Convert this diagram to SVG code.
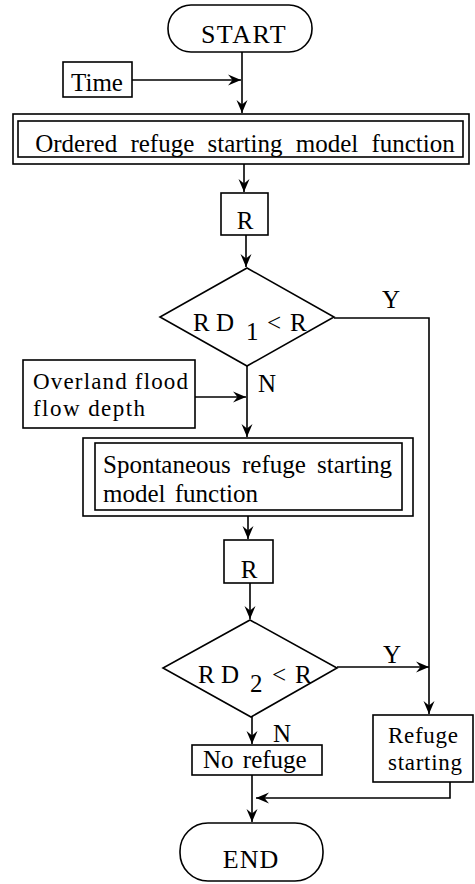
<svg xmlns="http://www.w3.org/2000/svg" width="475" height="884" viewBox="0 0 475 884">
  <style>
    .box { fill: #fff; stroke: #000; stroke-width: 1.6; }
    .edge { fill: none; stroke: #000; stroke-width: 1.6; }
    text { font-family: "Liberation Serif", "Times New Roman", serif; font-size: 25px; fill: #000; }
    .big { font-size: 26px; }
    .small { font-size: 23px; }
    .mid { text-anchor: middle; }
  </style>
  <defs>
    <marker id="arrow" markerUnits="userSpaceOnUse" markerWidth="14" markerHeight="12" refX="13" refY="6" orient="auto">
      <path d="M0,0.5 L13,6 L0,11.5 L4.5,6 z" fill="#000"/>
    </marker>
  </defs>
  <rect width="475" height="884" fill="#fff"/>

  <!-- connectors -->
  <g id="connectors">
    <path class="edge" d="M242,52 V113" marker-end="url(#arrow)"/>
    <path class="edge" d="M132,80 H241" marker-end="url(#arrow)"/>
    <path class="edge" d="M244,164 V192" marker-end="url(#arrow)"/>
    <path class="edge" d="M246,235 V267" marker-end="url(#arrow)"/>
    <path class="edge" d="M334,318 H429 V714" marker-end="url(#arrow)"/>
    <path class="edge" d="M247,366 V437" marker-end="url(#arrow)"/>
    <path class="edge" d="M195,397 H246" marker-end="url(#arrow)"/>
    <path class="edge" d="M248,516 V539" marker-end="url(#arrow)"/>
    <path class="edge" d="M250,583 V619" marker-end="url(#arrow)"/>
    <path class="edge" d="M337,667 H429" marker-end="url(#arrow)"/>
    <path class="edge" d="M252,717 V744" marker-end="url(#arrow)"/>
    <path class="edge" d="M252,775 V822" marker-end="url(#arrow)"/>
    <path class="edge" d="M450,782 V798 H256" marker-end="url(#arrow)"/>
    <text x="382" y="308">Y</text>
    <text x="258" y="392">N</text>
    <text x="383" y="663">Y</text>
    <text x="273" y="742">N</text>
  </g>

  <g id="start">
    <rect class="box" x="168" y="5" width="144" height="47" rx="23"/>
    <text class="big mid" x="244" y="43" letter-spacing="1.5">START</text>
  </g>

  <g id="time">
    <rect class="box" x="63" y="62" width="69" height="35"/>
    <text class="mid" x="97" y="91">Time</text>
  </g>

  <g id="ordered-model">
    <rect class="box" x="13" y="114" width="456" height="50"/>
    <rect class="box" x="18" y="121" width="445" height="36"/>
    <text class="mid" x="245" y="152" word-spacing="7">Ordered refuge starting model function</text>
  </g>

  <g id="r1">
    <rect class="box" x="221" y="193" width="47" height="42"/>
    <text class="mid" x="245" y="229">R</text>
  </g>

  <g id="decision1">
    <polygon class="box" points="247,268 334,317 247,366 160,317"/>
    <text x="193" y="331">R D</text>
    <text x="246" y="340">1</text>
    <text x="267" y="331">&lt;</text>
    <text x="290" y="331">R</text>
  </g>

  <g id="flood-depth">
    <rect class="box" x="23" y="360" width="172" height="68"/>
    <text class="small" x="33" y="389" textLength="155" lengthAdjust="spacing">Overland flood</text>
    <text class="small" x="33" y="416" textLength="112" lengthAdjust="spacing">flow depth</text>
  </g>

  <g id="spontaneous-model">
    <rect class="box" x="83" y="438" width="330" height="78"/>
    <rect class="box" x="95" y="443" width="307" height="67"/>
    <text x="103" y="473" word-spacing="5">Spontaneous refuge starting</text>
    <text x="103" y="502" word-spacing="3">model function</text>
  </g>

  <g id="r2">
    <rect class="box" x="224" y="540" width="49" height="43"/>
    <text class="mid" x="249" y="578">R</text>
  </g>

  <g id="decision2">
    <polygon class="box" points="250,620 337,668 251,717 163,668"/>
    <text x="198" y="683">R D</text>
    <text x="250" y="692">2</text>
    <text x="272" y="683">&lt;</text>
    <text x="295" y="683">R</text>
  </g>

  <g id="no-refuge">
    <rect class="box" x="192" y="745" width="130" height="30"/>
    <text x="203" y="768" word-spacing="3">No refuge</text>
  </g>

  <g id="refuge-starting">
    <rect class="box" x="373" y="715" width="100" height="67"/>
    <text class="small" x="388" y="743" textLength="70" lengthAdjust="spacing">Refuge</text>
    <text class="small" x="388" y="770" textLength="74" lengthAdjust="spacing">starting</text>
  </g>

  <g id="end">
    <rect class="box" x="180" y="823" width="143" height="58" rx="28"/>
    <text class="big mid" x="251" y="868" letter-spacing="1">END</text>
  </g>
</svg>
